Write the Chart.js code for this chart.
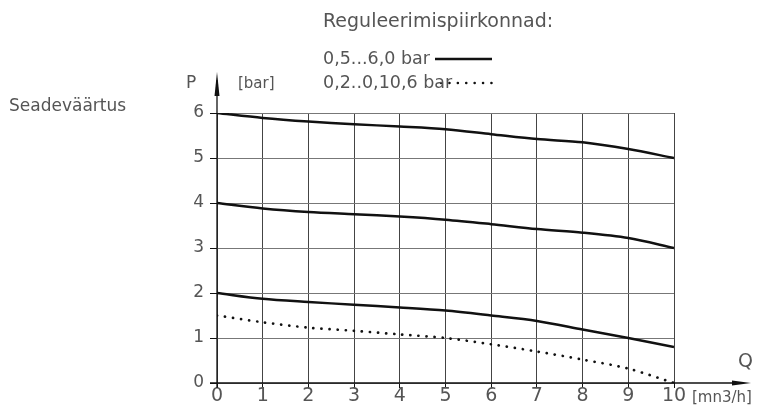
<!DOCTYPE html>
<html>
<head>
<meta charset="utf-8">
<script src="https://cdn.jsdelivr.net/npm/chart.js@4"></script>
<style>
  html, body { margin: 0; padding: 0; background: #fff; }
  #wrap { width: 757px; height: 408px; position: relative; }
</style>
</head>
<body>
<div id="wrap"><canvas id="chart"></canvas></div>
<script>
// 데이터
const flow = [0, 1, 2, 3, 4, 5, 6, 7, 8, 9, 10];
const curve6 = [6.0, 5.89, 5.81, 5.75, 5.7, 5.64, 5.53, 5.42, 5.35, 5.2, 5.0];
const curve4 = [4.0, 3.88, 3.8, 3.75, 3.7, 3.63, 3.53, 3.42, 3.34, 3.22, 3.0];
const curve2 = [2.0, 1.87, 1.8, 1.74, 1.68, 1.61, 1.5, 1.38, 1.19, 1.0, 0.8];
const curveLow = [1.5, 1.35, 1.23, 1.16, 1.08, 1.0, 0.86, 0.7, 0.52, 0.32, 0.0];
const yTicks = [0, 1, 2, 3, 4, 5, 6];

const FONT = '"DejaVu Sans", sans-serif';
const TXT = '#555';

const pts = (ys) => flow.map((x, i) => ({ x, y: ys[i] }));
const solid = (ys) => ({
  data: pts(ys), borderColor: '#111', borderWidth: 2.5, pointRadius: 0,
  showLine: true, tension: 0.3, fill: false
});

// 축 화살표, 라벨 등
const decor = {
  id: 'decor',
  afterDraw(chart) {
    const ctx = chart.ctx;
    const xs = chart.scales.x, ys = chart.scales.y;
    const x0 = xs.getPixelForValue(0), y0 = ys.getPixelForValue(0);
    ctx.save();
    ctx.strokeStyle = '#111';
    ctx.fillStyle = '#111';
    ctx.lineWidth = 1.3;
    // y축
    ctx.beginPath(); ctx.moveTo(x0, y0 + 5); ctx.lineTo(x0, 80); ctx.stroke();
    ctx.beginPath(); ctx.moveTo(x0, 72); ctx.lineTo(x0 - 2.5, 96); ctx.lineTo(x0 + 2.5, 96); ctx.closePath(); ctx.fill();
    // x축
    ctx.beginPath(); ctx.moveTo(x0 - 7, y0); ctx.lineTo(740, y0); ctx.stroke();
    ctx.beginPath(); ctx.moveTo(751, y0); ctx.lineTo(732, y0 - 2.5); ctx.lineTo(732, y0 + 2.5); ctx.closePath(); ctx.fill();

    // 범례 선
    ctx.lineWidth = 2.5;
    ctx.beginPath(); ctx.moveTo(435, 59); ctx.lineTo(492, 59); ctx.stroke();
    ctx.setLineDash([0.1, 8.3]); ctx.lineCap = 'round';
    ctx.beginPath(); ctx.moveTo(441, 83); ctx.lineTo(493, 83); ctx.stroke();
    ctx.setLineDash([]);

    ctx.fillStyle = TXT;
    ctx.textBaseline = 'alphabetic';
    ctx.font = '19px ' + FONT;
    ctx.fillText('Reguleerimispiirkonnad:', 323, 27);
    ctx.font = '17.5px ' + FONT;
    ctx.fillText('0,5...6,0 bar', 323, 64);
    ctx.fillText('0,2..0,10,6 bar', 323, 88);
    ctx.font = '15px ' + FONT;
    ctx.fillText('[bar]', 238, 88);
    ctx.font = '17px ' + FONT;
    ctx.fillText('P', 186, 88);
    ctx.fillText('Seadeväärtus', 9, 111);
    ctx.font = '19px ' + FONT;
    ctx.fillText('Q', 738, 367);
    ctx.font = '15px ' + FONT;
    ctx.fillText('[mn3/h]', 692, 402);
    ctx.restore();
  }
};

new Chart(document.getElementById('chart'), {
  type: 'scatter',
  data: {
    datasets: [
      solid(curve6),
      solid(curve4),
      solid(curve2),
      {
        data: pts(curveLow), borderColor: '#111', borderWidth: 2.7, pointRadius: 0,
        showLine: true, tension: 0.3, fill: false, borderDash: [0.1, 8], borderCapStyle: 'round'
      }
    ]
  },
  options: {
    responsive: true,
    maintainAspectRatio: false,
    animation: false,
    layout: { padding: { left: 177, right: 83, top: 113, bottom: 0 } },
    plugins: { legend: { display: false }, tooltip: { enabled: false } },
    scales: {
      x: {
        type: 'linear', min: 0, max: 10,
        afterFit: (s) => { s.height = 25; },
        afterBuildTicks: (s) => { s.ticks = flow.map(v => ({ value: v })); },
        grid: { color: '#444', lineWidth: 1, tickLength: 5, drawTicks: true, tickColor: '#111' },
        border: { display: false },
        ticks: { color: TXT, padding: -3, font: { family: FONT, size: 19 } }
      },
      y: {
        type: 'linear', min: 0, max: 6,
        afterFit: (s) => { s.width = 40; },
        afterBuildTicks: (s) => { s.ticks = yTicks.map(v => ({ value: v })); },
        grid: { color: '#777', lineWidth: 1, tickLength: 7, tickColor: '#111' },
        border: { display: false },
        ticks: { color: TXT, padding: 6, font: { family: FONT, size: 17 } }
      }
    }
  },
  plugins: [decor]
});
</script>
</body>
</html>
